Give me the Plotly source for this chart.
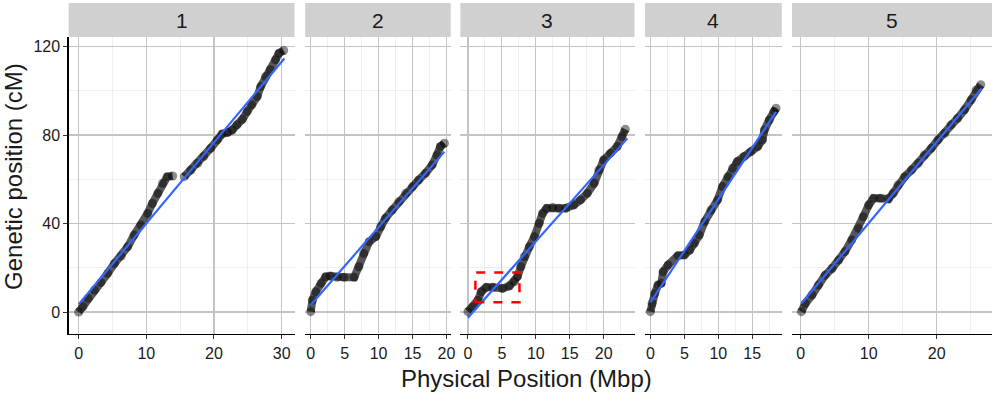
import plotly.graph_objects as go

# ---------------- data ----------------
chromosomes = ["1", "2", "3", "4", "5"]

chr1_x = [0, 0.64, 1.4, 2.35, 3.3, 4.3, 5.3, 6.3, 7.25, 8.2, 9.2, 10.2, 10.9, 11.7, 12.4, 13.1, 13.9, None,
          15.6, 16.6, 17.6, 18.5, 19.5, 20.5, 21.2, 22.0, 22.7, 23.4, 24.2, 24.9, 25.6, 26.4, 26.9, 27.6,
          28.3, 29.1, 29.6, 30.3]
chr1_y = [0, 2.4, 6.2, 10, 13.3, 17.5, 22, 25.3, 29.5, 34.8, 39.3, 44.6, 49.1, 53.7, 58.2, 61.2, 61.5, None,
          61.2, 64.2, 67.2, 70.3, 74, 77.8, 80.5, 81.1, 82.3, 84.6, 87.1, 90.6, 93.6, 97.4, 101.9, 106.4,
          109.5, 114, 117, 118.2]

chr2_x = [0, 0.25, 0.74, 1.5, 2.2, 2.9, 3.9, 4.9, 6.4, 7.1, 7.8, 8.6, 9.6, 10.3, 11.0, 12.0, 13.0, 14.0,
          15.0, 15.9, 16.9, 17.9, 18.6, 19.1, 19.7]
chr2_y = [0.2, 5.4, 9.2, 13, 16, 16.3, 15.7, 15.7, 15.7, 20.5, 26.5, 31.8, 34.1, 38.6, 42.4, 46.1, 49.9,
          53.7, 56.7, 59.7, 62.7, 66.5, 71, 74.8, 76.3]

chr3_x = [0, 0.73, 1.47, 1.96, 2.7, 3.7, 5.1, 6.1, 6.85, 7.3, 7.8, 8.3, 9.05, 9.8, 10.5, 11.0, 11.6, 12.5,
          13.4, 14.4, 15.6, 16.6, 17.6, 18.6, 19.3, 20.0, 21.0, 22.0, 22.7, 23.2]
chr3_y = [0.2, 2.4, 5.4, 9.2, 11.2, 11.2, 10.7, 11.8, 13.7, 16, 20.5, 25, 29.5, 34.1, 40.1, 44.6, 46.9,
          47.3, 46.9, 46.9, 48.4, 50.7, 53.7, 58.2, 64.2, 68.7, 71.8, 74.8, 79.3, 82.6]

chr4_x = [0, 0.24, 0.64, 1.1, 1.6, 1.86, 2.6, 4.05, 5.0, 5.8, 6.5, 7.2, 8.0, 8.9, 9.9, 10.6, 11.4, 12.1,
          12.8, 13.8, 14.8, 15.8, 16.5, 16.8, 17.5, 18.2, 18.5]
chr4_y = [0.2, 3.9, 8.4, 12.2, 13, 18.2, 21.3, 25.5, 25.8, 28, 31.1, 34.8, 40.9, 46.1, 50.7, 56.7, 61.2,
          65, 68, 70.3, 72.5, 74.8, 77.8, 82.3, 86.8, 90.6, 92.1]

chr5_x = [0.1, 0.68, 1.66, 2.6, 3.6, 4.6, 5.6, 6.5, 7.5, 8.5, 9.2, 10.0, 10.7, 11.7, 12.9, 13.6, 14.3,
          15.3, 16.3, 17.3, 18.2, 19.2, 20.2, 21.2, 22.1, 23.1, 24.1, 25.1, 25.8, 26.5]
chr5_y = [0.2, 3.9, 7.7, 12.2, 16.7, 19.7, 23.5, 27.3, 32.6, 37.8, 43.1, 48.4, 51.4, 51.4, 51.1, 53.7,
          57.4, 61.2, 64.2, 67.2, 71, 74, 77.8, 80.8, 84.6, 87.6, 91.4, 95.9, 100.4, 102.7]

# linear-fit (blue) line end points per chromosome
fit1_x, fit1_y = [0, 30.4], [3.5, 114.6]
fit2_x, fit2_y = [0, 19.7], [3.2, 72.5]
fit3_x, fit3_y = [0, 23.5], [-2.6, 78.5]
fit4_x, fit4_y = [0, 18.5], [4.4, 90.5]
fit5_x, fit5_y = [0.1, 26.6], [3.9, 101.0]

# highlighted region on chromosome 3
box_x = [1.1, 7.6]
box_y = [4.5, 17.9]

y_ticks = [0, 40, 80, 120]

# ---------------- layout helpers ----------------
W, H = 1000, 393
panel_px = [(69, 296), (306.7, 453), (462.7, 637.7), (648.3, 785.7), (796, 997)]
x_ranges = [[-1.47, 31.9], [-0.82, 20.63], [-1.11, 24.55], [-0.79, 19.35], [-1.28, 28.15]]
x_dtick = [10, 5, 5, 5, 10]
y_range = [-9.9, 124.3]
top_px, bot_px = 37, 334
strip_top_px = 3
y_dom = [1 - bot_px / H, 1 - top_px / H]

FONT = "Liberation Sans, Arial, sans-serif"
MAJOR = "#C4C4C4"
MINOR = "#EBEBEB"

series = [(chr1_x, chr1_y, fit1_x, fit1_y), (chr2_x, chr2_y, fit2_x, fit2_y),
          (chr3_x, chr3_y, fit3_x, fit3_y), (chr4_x, chr4_y, fit4_x, fit4_y),
          (chr5_x, chr5_y, fit5_x, fit5_y)]

fig = go.Figure()
layout = dict(
    width=W, height=H,
    margin=dict(l=0, r=0, t=0, b=0),
    paper_bgcolor="white", plot_bgcolor="white",
    showlegend=False,
    font=dict(family=FONT, color="#1a1a1a"),
)
shapes = []
annotations = []

for i, (xs, ys, fx, fy) in enumerate(series):
    n = i + 1
    xa = "x" if n == 1 else f"x{n}"
    ya = "y" if n == 1 else f"y{n}"
    fig.add_trace(go.Scatter(x=xs, y=ys, xaxis=xa, yaxis=ya, mode="lines+markers",
                             line=dict(color="rgba(0,0,0,0.66)", width=8),
                             marker=dict(color="rgba(0,0,0,0.45)", size=9, line=dict(width=0)),
                             connectgaps=False, hoverinfo="skip"))
    fig.add_trace(go.Scatter(x=fx, y=fy, xaxis=xa, yaxis=ya, mode="lines",
                             line=dict(color="#3366FF", width=2.2), hoverinfo="skip"))
    x0p, x1p = panel_px[i]
    dom = [x0p / W, x1p / W]
    xkey = "xaxis" if n == 1 else f"xaxis{n}"
    ykey = "yaxis" if n == 1 else f"yaxis{n}"
    layout[xkey] = dict(
        domain=dom, range=x_ranges[i], anchor=ya,
        tick0=0, dtick=x_dtick[i],
        showgrid=True, gridcolor=MAJOR, gridwidth=1.3, zeroline=False,
        minor=dict(dtick=x_dtick[i] / 2, tick0=0, showgrid=True, gridcolor=MINOR, gridwidth=0.8),
        showline=True, linecolor="black", linewidth=1.3,
        ticks="outside", ticklen=4, tickcolor="#333333", tickwidth=1,
        tickfont=dict(size=16, color="#1a1a1a", family=FONT),
    )
    layout[ykey] = dict(
        domain=y_dom, range=y_range, anchor=xa,
        tickvals=y_ticks,
        showgrid=True, gridcolor=MAJOR, gridwidth=1.3, zeroline=False,
        minor=dict(dtick=20, tick0=0, showgrid=True, gridcolor=MINOR, gridwidth=0.8),
        showline=(n == 1), linecolor="black", linewidth=1.3,
        ticks="outside" if n == 1 else "", ticklen=4, tickcolor="#333333", tickwidth=1,
        showticklabels=(n == 1),
        tickfont=dict(size=16, color="#1a1a1a", family=FONT),
    )
    # strip
    shapes.append(dict(type="rect", xref="paper", yref="paper",
                       x0=dom[0], x1=dom[1], y0=1 - top_px / H, y1=1 - strip_top_px / H,
                       fillcolor="#D0D0D0", line=dict(width=0), layer="below"))
    annotations.append(dict(text=chromosomes[i], xref="paper", yref="paper",
                            x=(dom[0] + dom[1]) / 2, y=1 - (top_px + strip_top_px) / 2 / H,
                            xanchor="center", yanchor="middle", showarrow=False,
                            font=dict(size=21, color="#1a1a1a", family=FONT)))

# red dashed highlight box on chromosome 3
shapes.append(dict(type="rect", xref="x3", yref="y3",
                   x0=box_x[0], x1=box_x[1], y0=box_y[0], y1=box_y[1],
                   line=dict(color="#FF0000", width=2.5, dash="dash"), fillcolor="rgba(0,0,0,0)",
                   layer="above"))

# axis titles
annotations.append(dict(text="Physical Position (Mbp)", xref="paper", yref="paper",
                        x=529 / W, y=1 - 378 / H, xanchor="center", yanchor="middle",
                        showarrow=False, font=dict(size=24, color="#1a1a1a", family=FONT)))
annotations.append(dict(text="Genetic position (cM)", xref="paper", yref="paper",
                        x=13 / W, y=1 - 176 / H, xanchor="center", yanchor="middle",
                        textangle=-90, showarrow=False,
                        font=dict(size=24, color="#1a1a1a", family=FONT)))

layout["shapes"] = shapes
layout["annotations"] = annotations
fig.update_layout(**layout)

fig.write_html("out.html",
               config={"displayModeBar": False, "staticPlot": True},
               post_script="document.body.style.margin='0px';document.body.style.overflow='hidden';")
